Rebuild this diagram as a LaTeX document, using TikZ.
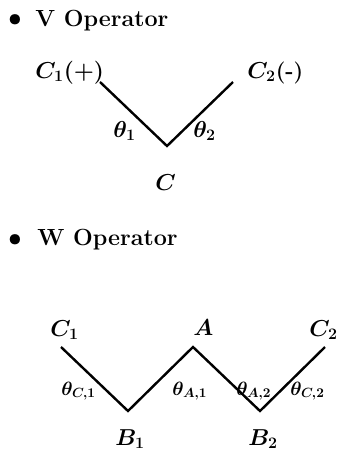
\documentclass[tikz,border=0pt]{standalone}
\tikzset{
  head/.style={font=\fontsize{17.5}{21}\selectfont\bfseries, inner sep=0pt},
  big/.style={font=\fontsize{16.5}{20}\selectfont\bfseries\boldmath, inner sep=0pt},
  small/.style={font=\fontsize{14}{17}\selectfont\bfseries\boldmath, inner sep=0pt},
  edge/.style={line width=1.8pt, line join=miter}
}
\begin{document}
\begin{tikzpicture}[x=0.75pt, y=-0.75pt]
\clip (0,0) rectangle (337,451);
% V operator
\node[big, anchor=center] (bul1) at (15,20) {$\bullet$};
\node[head, anchor=base west] (tv) at (35,26.5) {V Operator};
\node[big, anchor=base west] (c1) at (35,78) {$C_1(+)$};
\node[big, anchor=base west] (c2) at (247,78) {$C_2$(-)};
\node[big, anchor=base west] (th1) at (113,137) {$\theta_1$};
\node[big, anchor=base west] (th2) at (193,137) {$\theta_2$};
\node[big, anchor=base west] (c) at (155,190) {$C$};
\coordinate (v1) at (100,82);
\coordinate (vc) at (167,146);
\coordinate (v2) at (233,82);
\draw[edge] (v1) -- (vc) -- (v2);
% W operator
\node[big, anchor=center] (bul2) at (15,240) {$\bullet$};
\node[head, anchor=base west] (tw) at (37,245.5) {W Operator};
\node[big, anchor=base west] (wc1) at (50,336) {$C_1$};
\node[big, anchor=base west] (wa) at (193,335) {$A$};
\node[big, anchor=base west] (wc2) at (309,336) {$C_2$};
\node[big, anchor=base west] (wb1) at (115,445) {$B_1$};
\node[big, anchor=base west] (wb2) at (248,445) {$B_2$};
\node[small, anchor=base west] (tc1) at (61,395) {$\theta_{C,1}$};
\node[small, anchor=base west] (ta1) at (172,395) {$\theta_{A,1}$};
\node[small, anchor=base west] (ta2) at (236,395) {$\theta_{A,2}$};
\node[small, anchor=base west] (tc2) at (290,395) {$\theta_{C,2}$};
\coordinate (p1) at (61,347);
\coordinate (p2) at (128,411);
\coordinate (p3) at (193,347);
\coordinate (p4) at (260,411);
\coordinate (p5) at (325,347);
\draw[edge] (p1) -- (p2) -- (p3) -- (p4) -- (p5);
\end{tikzpicture}
\end{document}
